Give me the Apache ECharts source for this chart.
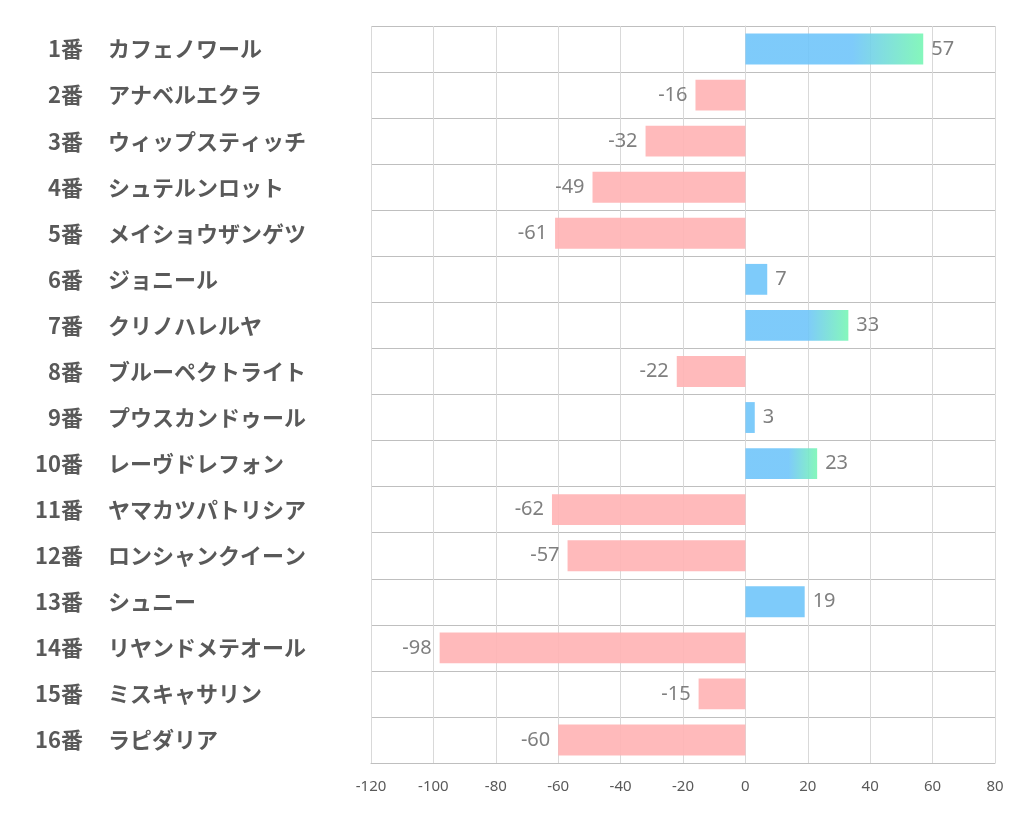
<!DOCTYPE html>
<html><head><meta charset="utf-8">
<script src="https://cdn.jsdelivr.net/npm/echarts@6/dist/echarts.min.js"></script>
<style>html,body{margin:0;padding:0;background:#fff}#c{width:1022px;height:834px}</style>
</head><body><div id="c"></div>
<script>
const numbers = ['1番','2番','3番','4番','5番','6番','7番','8番','9番','10番','11番','12番','13番','14番','15番','16番'];
const names = ['カフェノワール','アナベルエクラ','ウィップスティッチ','シュテルンロット','メイショウザンゲツ','ジョニール','クリノハレルヤ','ブルーペクトライト','プウスカンドゥール','レーヴドレフォン','ヤマカツパトリシア','ロンシャンクイーン','シュニー','リヤンドメテオール','ミスキャサリン','ラピダリア'];
const values = [57,-16,-32,-49,-61,7,33,-22,3,23,-62,-57,19,-98,-15,-60];
const xTicks = [-120,-100,-80,-60,-40,-20,0,20,40,60,80];

const blue = 'rgba(112,197,250,0.9)';
const green = 'rgba(120,246,180,0.9)';
const pink = 'rgba(255,178,180,0.9)';
const data = values.map(v=>{
  let color;
  if (v < 0) color = pink;
  else if (v >= 20) color = new echarts.graphic.LinearGradient(0,0,1,0,[{offset:0,color:blue},{offset:0.6,color:blue},{offset:1,color:green}]);
  else color = blue;
  return {value:v, itemStyle:{color}, label:{position: v<0?'left':'right'}};
});

const labelFont = {fontSize:22,fontWeight:'bold',color:'#595959',fontFamily:'Noto Sans CJK JP'};
const chart = echarts.init(document.getElementById('c'));
chart.setOption({
  animation:false,
  grid:{left:371,right:27,top:26,bottom:71,containLabel:false},
  xAxis:{type:'value',min:xTicks[0],max:xTicks[xTicks.length-1],interval:20,
    axisLine:{show:true,lineStyle:{color:'#bfbfbf'}},axisTick:{show:false},
    axisLabel:{color:'#595959',fontSize:15,margin:16,fontFamily:'Noto Sans'},
    splitLine:{show:true,lineStyle:{color:'#d9d9d9'}}},
  yAxis:[
    {type:'category',data:numbers,inverse:true,
      axisLine:{show:true,lineStyle:{color:'#d9d9d9'}},axisTick:{show:false},
      splitLine:{show:true,lineStyle:{color:'#bfbfbf'}},
      axisLabel:Object.assign({margin:288,align:'right'},labelFont)},
    {type:'category',data:names,inverse:true,position:'left',
      axisLine:{show:false},axisTick:{show:false},splitLine:{show:false},
      axisLabel:Object.assign({margin:263,align:'left'},labelFont)}
  ],
  series:[{type:'bar',data,barWidth:'67%',yAxisIndex:0,
    label:{show:true,color:'#7f7f7f',fontSize:20,distance:8,fontFamily:'Noto Sans'}}]
});
</script></body></html>
